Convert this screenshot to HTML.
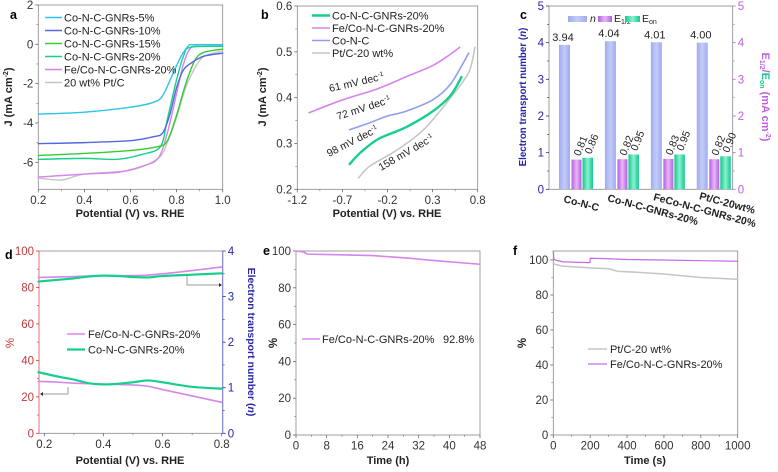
<!DOCTYPE html>
<html><head><meta charset="utf-8"><style>
html,body{margin:0;padding:0;background:#fff;}
svg{display:block;font-family:"Liberation Sans",Arial,sans-serif;}
</style></head><body>
<svg id="fig" width="778" height="472" viewBox="0 0 778 472"></svg>
<script>
// ---------- DATA ----------
// panel a: LSV curves (potential V, J mA cm-2)
const aNames = ["Co-N-C-GNRs-5%","Co-N-C-GNRs-10%","Co-N-C-GNRs-15%","Co-N-C-GNRs-20%","Fe/Co-N-C-GNRs-20%","20 wt% Pt/C"];
const aV5  = [0.2,0.4,0.6,0.7,0.74,0.78,0.82,0.85,0.87,1.0];
const aJ5  = [-3.55,-3.45,-3.2,-2.95,-2.6,-1.6,-0.6,-0.1,-0.02,-0.02];
const aV10 = [0.2,0.4,0.6,0.7,0.74,0.77,0.8,0.83,0.87,0.92,1.0];
const aJ10 = [-5.05,-5.0,-4.9,-4.7,-4.5,-3.6,-2.2,-1.3,-0.9,-0.6,-0.45];
const aV15 = [0.2,0.4,0.6,0.72,0.76,0.8,0.84,0.88,0.92,1.0];
const aJ15 = [-5.65,-5.55,-5.4,-5.2,-4.9,-3.6,-2.0,-0.8,-0.4,-0.25];
const aV20 = [0.2,0.4,0.54,0.65,0.73,0.76,0.8,0.83,0.86,1.0];
const aJ20 = [-5.85,-5.8,-5.85,-5.6,-5.2,-3.8,-1.8,-0.6,-0.15,-0.1];
const aVFe = [0.2,0.4,0.55,0.65,0.72,0.76,0.8,0.83,0.86,0.9,1.0];
const aJFe = [-6.75,-6.6,-6.5,-6.2,-5.8,-4.5,-2.5,-1.0,-0.2,-0.1,-0.1];
const aVPt = [0.2,0.3,0.4,0.6,0.72,0.76,0.8,0.84,0.88,0.92,1.0];
const aJPt = [-6.8,-6.9,-6.6,-6.4,-5.8,-5.0,-3.7,-2.2,-1.2,-0.6,-0.35];
const aXTicks = [0.2,0.4,0.6,0.8,1.0];
const aYTicks = [2,0,-2,-4,-6];
// panel b: Tafel
const bNames = ["Co-N-C-GNRs-20%","Fe/Co-N-C-GNRs-20%","Co-N-C","Pt/C-20 wt%"];
const bXG = [-0.62,-0.5,-0.3,0,0.3,0.5,0.62];
const bYG = [0.255,0.28,0.31,0.335,0.37,0.405,0.445];
const bXF = [-1.07,-0.7,-0.3,0,0.3,0.5,0.6];
const bYF = [0.367,0.395,0.42,0.445,0.47,0.495,0.51];
const bXC = [-0.62,-0.4,-0.2,0,0.3,0.5,0.7];
const bYC = [0.33,0.345,0.36,0.37,0.395,0.43,0.497];
const bXP = [-0.52,-0.4,-0.1,0.2,0.5,0.7,0.77];
const bYP = [0.225,0.25,0.285,0.33,0.4,0.455,0.51];
const bXTicks = [-1.2,-0.7,-0.2,0.3,0.8];
const bYTicks = [0.2,0.3,0.4,0.5,0.6];
// panel c: bars
const cCats = ["Co-N-C","Co-N-C-GNRs-20%","FeCo-N-C-GNRs-20%","Pt/C-20wt%"];
const cN = [3.94,4.04,4.01,4.00];
const cNLabels = ["3.94","4.04","4.01","4.00"];
const cE12 = [0.81,0.82,0.83,0.82];
const cEon = [0.86,0.95,0.95,0.90];
const cYTicks = [0,1,2,3,4,5];
// panel d
const dV = [0.18,0.25,0.3,0.35,0.4,0.45,0.5,0.55,0.6,0.7,0.8];
const dNFe = [3.42,3.43,3.44,3.45,3.46,3.46,3.46,3.47,3.5,3.57,3.65];
const dNCo = [3.33,3.37,3.4,3.44,3.46,3.45,3.43,3.42,3.45,3.48,3.51];
const dPFe = [28.5,28,27.5,27.2,27,26.8,26.5,25.8,24,20.5,17];
const dPCo = [33.5,31,29.5,27.5,26.8,27.2,28,29,28,25.5,24.5];
const dXTicks = [0.2,0.4,0.6,0.8];
const dYTicks = [0,20,40,60,80,100];
const dY2Ticks = [0,1,2,3,4];
// panel e
const eT = [0,2,3,10,20,30,36,48];
const eP = [100,99.5,98.3,98,97.5,96,94.8,92.8];
const eXTicks = [0,8,16,24,32,40,48];
const eYTicks = [0,20,40,60,80,100];
// panel f
const fT1 = [0,3,10,50,100,195,199,200,203,300,400,600,800,1000];
const fFe = [105,100.5,100,99,98.8,98.5,98.5,101,101,100.7,100.3,100,99.6,99.3];
const fT2 = [0,10,50,100,200,300,350,450,600,800,1000];
const fPt = [98,97.5,96.5,96.2,95.5,95,93.5,93,92,90,89];
const fXTicks = [0,200,400,600,800,1000];
const fYTicks = [0,20,40,60,80,100];

// ---------- HELPERS ----------
const NS = "http://www.w3.org/2000/svg";
const svg = document.getElementById("fig");
function el(tag, attrs, name, parent) {
  const e = document.createElementNS(NS, tag);
  for (const k in attrs) e.setAttribute(k, attrs[k]);
  
  
  (parent || svg).appendChild(e);
  return e;
}
function txt(x, y, s, name, o) {
  o = o || {};
  const t = el("text", {x:x, y:y, "font-size":o.fs||11, fill:o.fill||"#222", "text-anchor":o.anchor||"middle", "font-weight":o.fw||"normal"}, name);
  if (o.rot !== undefined) t.setAttribute("transform", "rotate(" + o.rot + " " + x + " " + y + ")");
  if (o.style) t.setAttribute("font-style", o.style);
  t.innerHTML = s;
  return t;
}
function lin(d0, d1, r0, r1) { return v => r0 + (v - d0) * (r1 - r0) / (d1 - d0); }
function path(sx, sy, xs, ys, stroke, w, name, smooth) {
  const P = xs.map((x, i) => [sx(x), sy(ys[i])]);
  let d = "M" + P[0][0].toFixed(2) + "," + P[0][1].toFixed(2);
  for (let i = 0; i < P.length - 1; i++) {
    if (!smooth) { d += "L" + P[i+1][0].toFixed(2) + "," + P[i+1][1].toFixed(2); continue; }
    const p0 = P[i-1] || P[i], p1 = P[i], p2 = P[i+1], p3 = P[i+2] || P[i+1];
    const t = 0.16;
    const c1 = [p1[0] + (p2[0]-p0[0])*t, p1[1] + (p2[1]-p0[1])*t];
    const c2 = [p2[0] - (p3[0]-p1[0])*t, p2[1] - (p3[1]-p1[1])*t];
    d += "C" + c1[0].toFixed(2) + "," + c1[1].toFixed(2) + " " + c2[0].toFixed(2) + "," + c2[1].toFixed(2) + " " + p2[0].toFixed(2) + "," + p2[1].toFixed(2);
  }
  return el("path", {d:d, fill:"none", stroke:stroke, "stroke-width":w, "stroke-linejoin":"round", "stroke-linecap":"round"}, name);
}
function frame(x0, y0, x1, y1, name, col) {
  el("rect", {x:x0, y:y0, width:x1-x0, height:y1-y0, fill:"none", stroke:col||"#888", "stroke-width":0.8}, name);
}
function xAxis(sx, y, ticks, fmt, name, minorStep) {
  ticks.forEach(v => {
    el("line", {x1:sx(v), x2:sx(v), y1:y, y2:y+3, stroke:"#666", "stroke-width":0.8}, name + "-tick");
    txt(sx(v), y + 14.5, fmt(v), name + "-label", {fs:11.5, fill:"#333"});
  });
  if (minorStep) for (let i = 0; i < ticks.length - 1; i++) {
    const m = (ticks[i] + ticks[i+1]) / 2;
    el("line", {x1:sx(m), x2:sx(m), y1:y, y2:y+2, stroke:"#777", "stroke-width":0.6}, name + "-minor");
  }
}
function yAxis(sy, x, ticks, fmt, name, col, right) {
  ticks.forEach(v => {
    el("line", {x1:x, x2:right ? x+3 : x-3, y1:sy(v), y2:sy(v), stroke:col||"#666", "stroke-width":0.8}, name + "-tick");
    txt(right ? x+5 : x-5, sy(v) + 4, fmt(v), name + "-label", {fs:11.5, fill:col||"#333", anchor:right ? "start" : "end"});
  });
  for (let i = 0; i < ticks.length - 1; i++) {
    const m = (ticks[i] + ticks[i+1]) / 2;
    el("line", {x1:x, x2:right ? x+2 : x-2, y1:sy(m), y2:sy(m), stroke:col||"#777", "stroke-width":0.6}, name + "-minor");
  }
}
const C = {cyan:"#2ec3e8", blue:"#5468de", green:"#33cc33", teal:"#17cf8c", vio:"#d585ec", grey:"#c6c6c6", nbar:"#aab5f2", red:"#c43a3a", navy:"#2626a8"};

// ---------- PANEL A ----------
{
  const sx = lin(0.2, 1.0, 38.3, 222.7), sy = lin(0, -6, 44.3, 162.3);
  frame(38.3, 5, 222.7, 189.3, "panel-a-frame");
  xAxis(sx, 189.3, aXTicks, v => v.toFixed(1), "a-x", true);
  yAxis(sy, 38.3, aYTicks, v => v, "a-y");
  path(sx, sy, aVPt, aJPt, C.grey, 1.4, "a-line-pt", true);
  path(sx, sy, aVFe, aJFe, C.vio, 1.4, "a-line-fe", true);
  path(sx, sy, aV20, aJ20, C.teal, 1.4, "a-line-20", true);
  path(sx, sy, aV15, aJ15, C.green, 1.4, "a-line-15", true);
  path(sx, sy, aV10, aJ10, C.blue, 1.4, "a-line-10", true);
  path(sx, sy, aV5, aJ5, C.cyan, 1.4, "a-line-5", true);
  const cols = [C.cyan, C.blue, C.green, C.teal, C.vio, C.grey];
  aNames.forEach((n, i) => {
    const y = 17.5 + i * 13;
    el("line", {x1:45, x2:62, y1:y, y2:y, stroke:cols[i], "stroke-width":1.6}, "a-legend-swatch");
    txt(64, y + 4, n, "a-legend-entry", {fs:11, anchor:"start"});
  });
  txt(10, 19, "a", "panel-a-letter", {fs:12.5, fw:"bold", anchor:"start", fill:"#000"});
  txt(130, 217, "Potential (V) vs. RHE", "a-x-title", {fs:11, fw:"bold"});
  txt(12, 97, "J (mA cm<tspan dy='-4' font-size='7'>-2</tspan><tspan dy='4'>)</tspan>", "a-y-title", {fs:11, fw:"bold", rot:-90});
}
// ---------- PANEL B ----------
{
  const sx = lin(-1.2, 0.8, 297.3, 477.7), sy = lin(0.2, 0.6, 189.3, 6);
  frame(297.3, 6, 477.7, 189.3, "panel-b-frame");
  xAxis(sx, 189.3, bXTicks, v => v.toFixed(1), "b-x", true);
  yAxis(sy, 297.3, bYTicks, v => v.toFixed(1), "b-y");
  path(sx, sy, bXP, bYP, C.grey, 1.6, "b-line-pt", true);
  path(sx, sy, bXC, bYC, "#8f9ef0", 1.6, "b-line-con", true);
  path(sx, sy, bXF, bYF, C.vio, 1.6, "b-line-fe", true);
  path(sx, sy, bXG, bYG, C.teal, 2.4, "b-line-20", true);
  const cols = [C.teal, C.vio, "#8f9ef0", C.grey];
  bNames.forEach((n, i) => {
    const y = 15.5 + i * 12.5;
    el("line", {x1:312, x2:330, y1:y, y2:y, stroke:cols[i], "stroke-width":i==0?2.4:1.6}, "b-legend-swatch");
    txt(332, y + 4, n, "b-legend-entry", {fs:11, anchor:"start"});
  });
  const sup = "<tspan dy='-4' font-size='6.5'>-1</tspan>";
  txt(330, 92, "61 mV dec" + sup, "b-annot-61", {fs:10.5, anchor:"start", rot:-13});
  txt(338, 120, "72 mV dec" + sup, "b-annot-72", {fs:10.5, anchor:"start", rot:-18});
  txt(329, 157, "98 mV dec" + sup, "b-annot-98", {fs:10.5, anchor:"start", rot:-27});
  txt(381, 171, "158 mV dec" + sup, "b-annot-158", {fs:10.5, anchor:"start", rot:-30});
  txt(261, 19, "b", "panel-b-letter", {fs:12.5, fw:"bold", anchor:"start", fill:"#000"});
  txt(387, 217, "Potential (V) vs. RHE", "b-x-title", {fs:11, fw:"bold"});
  txt(266, 97, "J (mA cm<tspan dy='-4' font-size='7'>-2</tspan><tspan dy='4'>)</tspan>", "b-y-title", {fs:11, fw:"bold", rot:-90});
}
// ---------- PANEL C ----------
{
  const sy = lin(0, 5, 189.3, 6), x0 = 549, bw = (732.7 - 549) / cCats.length;
  const defs = el("defs", {}, "c-defs");
  defs.innerHTML = '<linearGradient id="gn" x1="0" x2="1"><stop offset="0" stop-color="#9fabef"/><stop offset="0.5" stop-color="#c3ccf8"/><stop offset="1" stop-color="#9fabef"/></linearGradient>' +
    '<linearGradient id="ge" x1="0" x2="1"><stop offset="0" stop-color="#b45fe0"/><stop offset="0.5" stop-color="#e8b6f7"/><stop offset="1" stop-color="#b45fe0"/></linearGradient>' +
    '<linearGradient id="go" x1="0" x2="1"><stop offset="0" stop-color="#10c98f"/><stop offset="0.5" stop-color="#8ef0cf"/><stop offset="1" stop-color="#10c98f"/></linearGradient>';
  frame(549, 6, 732.7, 189.3, "panel-c-frame");
  yAxis(sy, 549, cYTicks, v => v, "c-y", C.navy);
  yAxis(sy, 732.7, cYTicks, v => v, "c-y2", "#c05fe0", true);
  cCats.forEach((c, i) => {
    const g = x0 + i * bw;
    el("rect", {x:g+10, y:sy(cN[i]), width:11, height:sy(0)-sy(cN[i]), fill:"url(#gn)"}, "c-bar-n");
    el("rect", {x:g+22.5, y:sy(cE12[i]), width:10, height:sy(0)-sy(cE12[i]), fill:"url(#ge)"}, "c-bar-e12");
    el("rect", {x:g+33.5, y:sy(cEon[i]), width:10.5, height:sy(0)-sy(cEon[i]), fill:"url(#go)"}, "c-bar-eon");
    txt(g+14, sy(cN[i]) - 4, cNLabels[i], "c-value-n", {fs:11});
    txt(g+31, sy(cE12[i]) - 3, cE12[i].toFixed(2), "c-value-e12", {fs:10.5, anchor:"start", rot:-68});
    txt(g+42, sy(cEon[i]) - 3, cEon[i].toFixed(2), "c-value-eon", {fs:10.5, anchor:"start", rot:-68});
    txt(g + 13 + (i==0?1:-1), 202 - i*1, c, "c-x-label", {fs:10.5, fw:"bold", anchor:"start", rot:15});
  });
  el("rect", {x:568, y:16, width:19, height:6, fill:"url(#gn)"}, "c-legend-n-swatch");
  txt(590, 22, "n", "c-legend-n", {fs:10.5, anchor:"start", style:"italic"});
  el("rect", {x:598, y:16, width:14, height:6, fill:"url(#ge)"}, "c-legend-e12-swatch");
  txt(614, 22, "E<tspan dy='2' font-size='7'>1/2</tspan>", "c-legend-e12", {fs:10.5, anchor:"start"});
  el("rect", {x:625, y:16, width:15, height:6, fill:"url(#go)"}, "c-legend-eon-swatch");
  txt(642, 22, "E<tspan dy='2' font-size='7'>on</tspan>", "c-legend-eon", {fs:10.5, anchor:"start"});
  txt(520, 19, "c", "panel-c-letter", {fs:12.5, fw:"bold", anchor:"start", fill:"#000"});
  txt(526, 97, "Electron transport number (<tspan font-style='italic'>n</tspan>)", "c-y-title", {fs:9.8, fw:"bold", fill:C.navy, rot:-90});
  txt(762, 97, "E<tspan dy='2' font-size='7'>1/2</tspan><tspan dy='-2'>/</tspan><tspan fill='#17c98c'>E<tspan dy='2' font-size='7'>on</tspan></tspan><tspan dy='-2'> (mA cm</tspan><tspan dy='-4' font-size='7'>-2</tspan><tspan dy='4'>)</tspan>", "c-y2-title", {fs:11, fw:"bold", fill:"#c05fe0", rot:90});
}
// ---------- PANEL D ----------
{
  const sx = lin(0.2, 0.8, 44.3, 221.7), sy = lin(0, 100, 433.3, 251), sy2 = lin(0, 4, 433.3, 251);
  el("rect", {x:39, y:251, width:183.7, height:182.3, fill:"none", stroke:"#888", "stroke-width":0.8}, "panel-d-frame");
  el("line", {x1:39, x2:39, y1:251, y2:433.3, stroke:"#e07070", "stroke-width":1}, "d-left-axis");
  el("line", {x1:222.7, x2:222.7, y1:251, y2:433.3, stroke:"#7a7ad0", "stroke-width":1}, "d-right-axis");
  xAxis(sx, 433.3, dXTicks, v => v.toFixed(1), "d-x", true);
  yAxis(sy, 39, dYTicks, v => v, "d-y", C.red);
  yAxis(sy2, 222.7, dY2Ticks, v => v, "d-y2", C.navy, true);
  path(sx, sy2, dV, dNFe, C.vio, 1.6, "d-n-fe", true);
  path(sx, sy2, dV, dNCo, C.teal, 2.2, "d-n-co", true);
  path(sx, sy, dV, dPFe, C.vio, 1.6, "d-h2o2-fe", true);
  path(sx, sy, dV, dPCo, C.teal, 2.2, "d-h2o2-co", true);
  el("path", {d:"M187,275 V285 H219", fill:"none", stroke:"#777", "stroke-width":0.7}, "d-arrow-right");
  el("path", {d:"M219,283 L222,285 L219,287Z", fill:"#333"}, "d-arrowhead-right");
  el("path", {d:"M68,387 V394 H43", fill:"none", stroke:"#777", "stroke-width":0.7}, "d-arrow-left");
  el("path", {d:"M43,392 L40,394 L43,396Z", fill:"#333"}, "d-arrowhead-left");
  el("line", {x1:67, x2:85, y1:334, y2:334, stroke:C.vio, "stroke-width":1.6}, "d-legend-swatch");
  txt(88, 338, "Fe/Co-N-C-GNRs-20%", "d-legend-entry", {fs:11, anchor:"start"});
  el("line", {x1:67, x2:85, y1:349.5, y2:349.5, stroke:C.teal, "stroke-width":2.2}, "d-legend-swatch");
  txt(88, 353.5, "Co-N-C-GNRs-20%", "d-legend-entry", {fs:11, anchor:"start"});
  txt(5, 259, "d", "panel-d-letter", {fs:12.5, fw:"bold", anchor:"start", fill:"#000"});
  txt(130, 464, "Potential (V) vs. RHE", "d-x-title", {fs:11, fw:"bold"});
  txt(14, 343, "%", "d-y-title", {fs:11.5, fill:C.red, rot:-90});
  txt(248, 342, "Electron transport number (<tspan font-style='italic'>n</tspan>)", "d-y2-title", {fs:10.5, fw:"bold", fill:C.navy, rot:90});
}
// ---------- PANEL E ----------
{
  const sx = lin(0, 48, 296, 480), sy = lin(0, 100, 435, 251);
  frame(296, 251, 480, 435, "panel-e-frame");
  xAxis(sx, 435, eXTicks, v => v, "e-x", true);
  yAxis(sy, 296, eYTicks, v => v, "e-y");
  path(sx, sy, eT, eP, C.vio, 1.6, "e-line-fe");
  el("line", {x1:302, x2:320, y1:339, y2:339, stroke:C.vio, "stroke-width":1.6}, "e-legend-swatch");
  txt(322, 343, "Fe/Co-N-C-GNRs-20%", "e-legend-entry", {fs:11, anchor:"start"});
  txt(443, 343, "92.8%", "e-legend-value", {fs:11, anchor:"start"});
  txt(263, 255, "e", "panel-e-letter", {fs:12.5, fw:"bold", anchor:"start", fill:"#000"});
  txt(388, 464, "Time (h)", "e-x-title", {fs:11, fw:"bold"});
  txt(277, 343, "%", "e-y-title", {fs:11.5, fw:"bold", rot:-90});
}
// ---------- PANEL F ----------
{
  const sx = lin(0, 1000, 553.3, 737.7), sy = lin(0, 100, 435, 260);
  frame(553.3, 251, 737.7, 435, "panel-f-frame");
  xAxis(sx, 435, fXTicks, v => v, "f-x", true);
  yAxis(sy, 553.3, fYTicks, v => v, "f-y");
  path(sx, sy, fT2, fPt, C.grey, 1.6, "f-line-pt");
  path(sx, sy, fT1, fFe, "#c46ae8", 1.2, "f-line-fe");
  el("line", {x1:588, x2:607, y1:349, y2:349, stroke:C.grey, "stroke-width":1.6}, "f-legend-swatch");
  txt(610, 353, "Pt/C-20 wt%", "f-legend-entry", {fs:11, anchor:"start"});
  el("line", {x1:588, x2:607, y1:364, y2:364, stroke:"#c46ae8", "stroke-width":1.2}, "f-legend-swatch");
  txt(610, 368, "Fe/Co-N-C-GNRs-20%", "f-legend-entry", {fs:11, anchor:"start"});
  txt(513, 255, "f", "panel-f-letter", {fs:12.5, fw:"bold", anchor:"start", fill:"#000"});
  txt(645, 464, "Time (s)", "f-x-title", {fs:11, fw:"bold"});
  txt(526, 343, "%", "f-y-title", {fs:11.5, fw:"bold", rot:-90});
}
</script>
</body></html>
